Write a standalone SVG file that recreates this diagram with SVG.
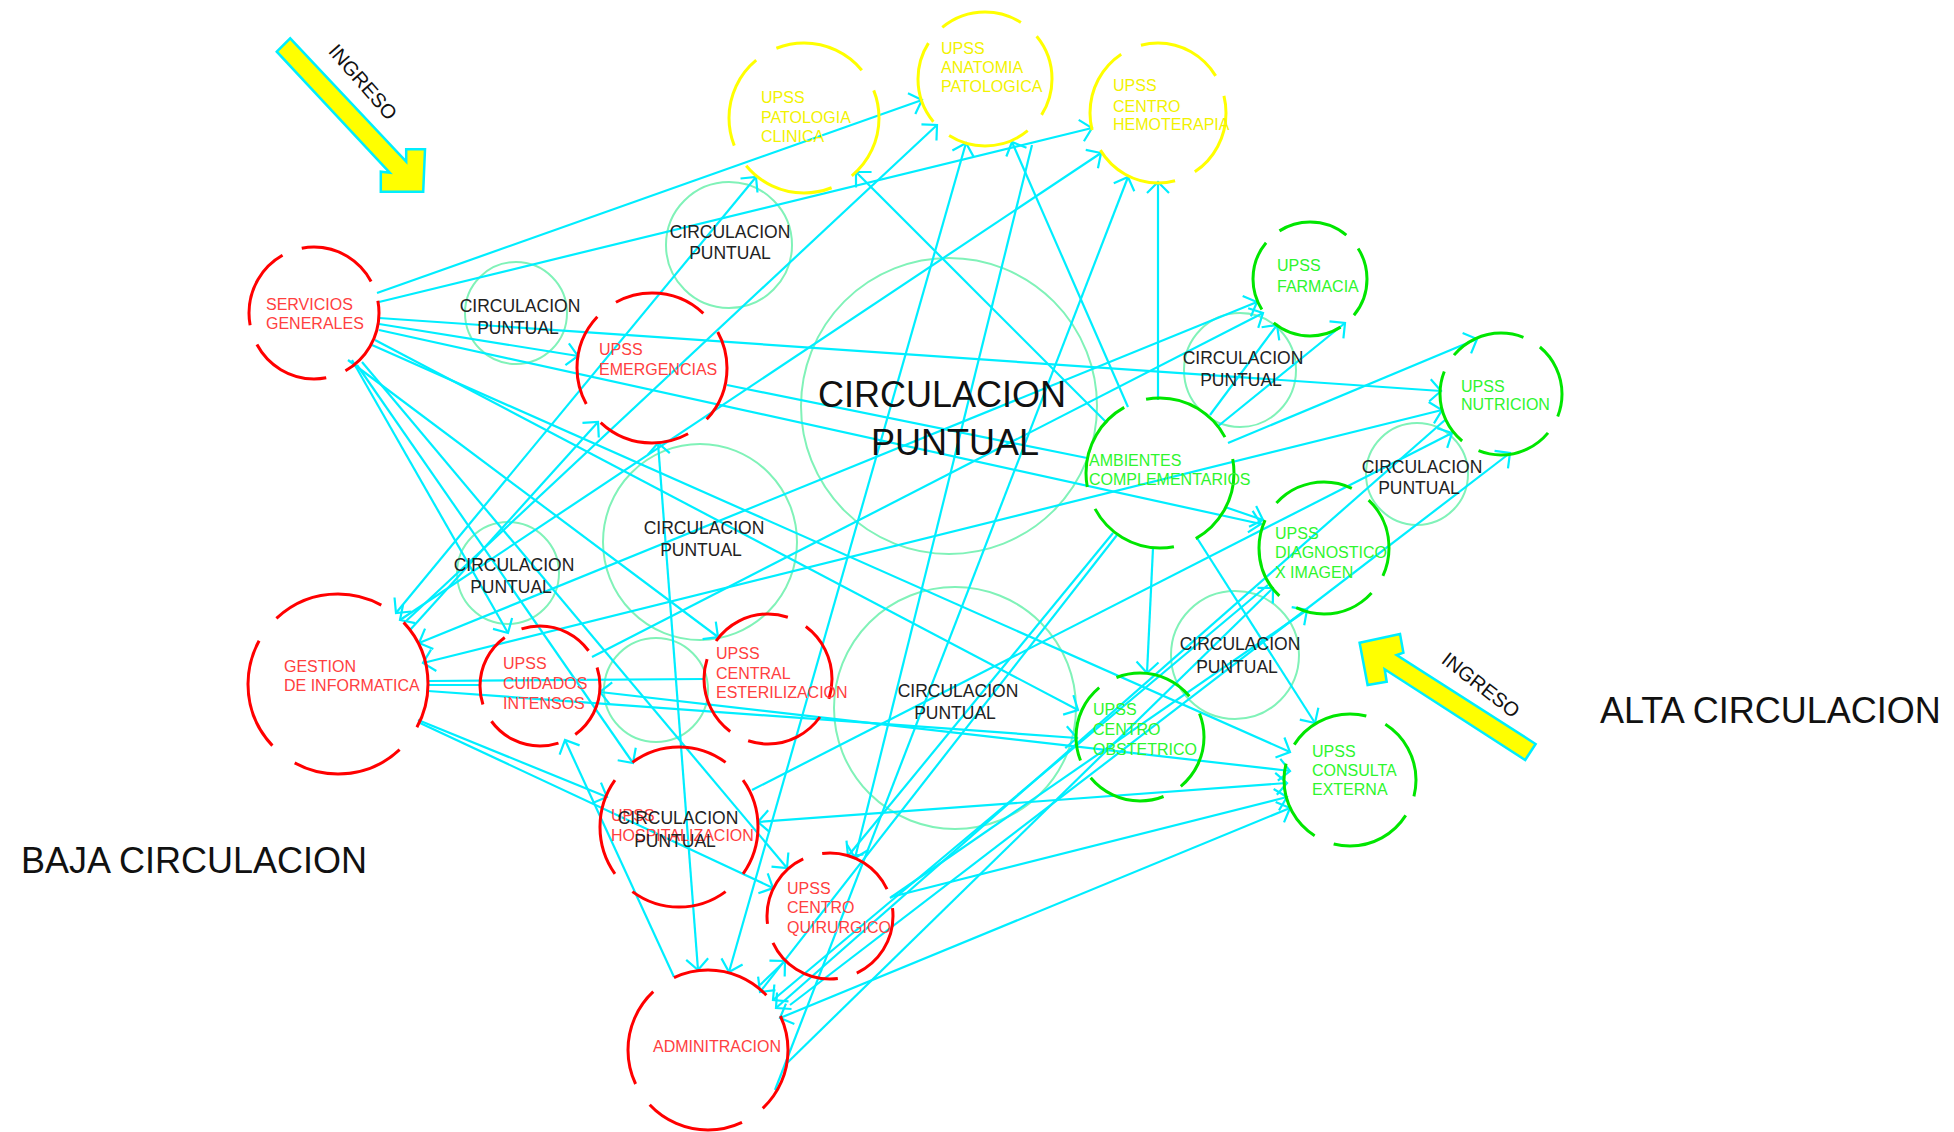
<svg xmlns="http://www.w3.org/2000/svg" width="1954" height="1132" viewBox="0 0 1954 1132">
<style>
text{font-family:"Liberation Sans",Arial,sans-serif}
.nr{fill:none;stroke:#ff0000;stroke-width:3;stroke-dasharray:20 5}
.ng{fill:none;stroke:#00e600;stroke-width:3;stroke-dasharray:20 5}
.ny{fill:none;stroke:#ffff00;stroke-width:3;stroke-dasharray:20 5}
.cp{fill:none;stroke:#80f2b8;stroke-width:2}
.tr{fill:#ff4040;font-size:16px}
.tg{fill:#2ef52e;font-size:16px}
.ty{fill:#f2f200;font-size:16px}
.tc{fill:#222;font-size:17.5px;text-anchor:middle}
.tb{fill:#111;font-size:36px}
.c line{stroke:#00eeff;stroke-width:2.2;fill:none}
.e{marker-end:url(#ah)}
.b{marker-end:url(#ah);marker-start:url(#ah)}
.arw{fill:#ffff00;stroke:#00eeff;stroke-width:2.5}
</style>
<defs>
<marker id="ah" markerUnits="userSpaceOnUse" markerWidth="30" markerHeight="30" viewBox="-15 -15 30 30" refX="0" refY="0" orient="auto-start-reverse">
<path d="M-11,-11 L0,0 L-11,11" fill="none" stroke="#00eeff" stroke-width="2.2"/>
</marker>
</defs>
<rect width="1954" height="1132" fill="#ffffff"/>

<g id="circulation-areas">
<ellipse class="cp" cx="729" cy="245" rx="63" ry="63"/>
<ellipse class="cp" cx="516" cy="313" rx="51" ry="51"/>
<ellipse class="cp" cx="949" cy="406" rx="148" ry="148"/>
<ellipse class="cp" cx="1240" cy="370" rx="56" ry="57"/>
<ellipse class="cp" cx="1417" cy="474" rx="51" ry="51"/>
<ellipse class="cp" cx="508" cy="573" rx="51" ry="51"/>
<ellipse class="cp" cx="700" cy="542" rx="97" ry="98"/>
<ellipse class="cp" cx="656" cy="690" rx="52" ry="52"/>
<ellipse class="cp" cx="955" cy="708" rx="121" ry="121"/>
<ellipse class="cp" cx="1235" cy="655" rx="64" ry="64"/>
</g>

<g class="c" id="connectors">
<line class="e" x1="377" y1="293" x2="922" y2="100"/>
<line class="e" x1="379" y1="302" x2="1092" y2="128"/>
<line class="e" x1="379" y1="318" x2="1441" y2="391"/>
<line class="e" x1="379" y1="324" x2="578" y2="356"/>
<line class="e" x1="379" y1="330" x2="1261" y2="524"/>
<line class="e" x1="375" y1="340" x2="1078" y2="710"/>
<line class="e" x1="372" y1="345" x2="1290" y2="752"/>
<line class="e" x1="352" y1="360" x2="508" y2="633"/>
<line class="e" x1="357" y1="365" x2="633" y2="763"/>
<line class="e" x1="348" y1="360" x2="718" y2="637"/>
<line class="e" x1="362" y1="362" x2="787" y2="868"/>
<line class="b" x1="396" y1="613" x2="756" y2="177"/>
<line class="b" x1="400" y1="620" x2="1101" y2="153"/>
<line class="e" x1="405" y1="622" x2="937" y2="125"/>
<line class="e" x1="410" y1="630" x2="598" y2="422"/>
<line class="b" x1="419" y1="643" x2="1257" y2="302"/>
<line class="b" x1="423" y1="663" x2="1442" y2="410"/>
<line x1="428" y1="681" x2="704" y2="679"/>
<line x1="428" y1="685" x2="481" y2="685"/>
<line class="e" x1="428" y1="691" x2="1077" y2="738"/>
<line class="e" x1="418" y1="720" x2="607" y2="797"/>
<line class="e" x1="420" y1="723" x2="773" y2="888"/>
<line class="b" x1="600" y1="692" x2="1290" y2="771"/>
<line class="e" x1="592" y1="657" x2="1263" y2="313"/>
<line class="e" x1="674" y1="977" x2="565" y2="740"/>
<line class="b" x1="658" y1="443" x2="698" y2="970"/>
<line x1="727" y1="385" x2="1087" y2="458"/>
<line class="e" x1="1107" y1="423" x2="856" y2="172"/>
<line class="e" x1="1128" y1="407" x2="1012" y2="142"/>
<line class="e" x1="1158" y1="400" x2="1158" y2="182"/>
<line class="b" x1="966" y1="143" x2="729" y2="972"/>
<line class="e" x1="775" y1="1090" x2="1128" y2="177"/>
<line class="e" x1="1113" y1="533" x2="848" y2="856"/>
<line class="e" x1="1117" y1="535" x2="760" y2="992"/>
<line class="e" x1="1153" y1="548" x2="1147" y2="673"/>
<line class="e" x1="1197" y1="538" x2="1315" y2="723"/>
<line class="e" x1="1225" y1="507" x2="1263" y2="520"/>
<line class="e" x1="1228" y1="443" x2="1477" y2="339"/>
<line class="e" x1="1217" y1="427" x2="1345" y2="323"/>
<line class="e" x1="1210" y1="415" x2="1277" y2="325"/>
<line class="e" x1="790" y1="1005" x2="1510" y2="453"/>
<line class="e" x1="752" y1="790" x2="1452" y2="433"/>
<line class="e" x1="890" y1="898" x2="1307" y2="610"/>
<line class="e" x1="785" y1="1065" x2="1273" y2="588"/>
<line class="e" x1="891" y1="897" x2="1287" y2="797"/>
<line class="b" x1="780" y1="1018" x2="1290" y2="808"/>
<line class="b" x1="758" y1="822" x2="1287" y2="783"/>
<line class="e" x1="760" y1="985" x2="785" y2="961"/>
<line class="e" x1="1268" y1="585" x2="773" y2="1000"/>
<line class="e" x1="1445" y1="420" x2="776" y2="1008"/>
<line class="e" x1="1032" y1="145" x2="855" y2="858"/>
</g>

<g id="servicios-generales"><ellipse class="nr" cx="314" cy="313" rx="65" ry="66" pathLength="100" stroke-dashoffset="3"/>
<text class="tr" x="266" y="310">SERVICIOS</text><text class="tr" x="266" y="329">GENERALES</text></g>
<g id="emergencias"><ellipse class="nr" cx="652" cy="368" rx="75" ry="75" pathLength="100" stroke-dashoffset="8"/>
<text class="tr" x="599" y="355">UPSS</text><text class="tr" x="599" y="375">EMERGENCIAS</text></g>
<g id="gestion-informatica"><ellipse class="nr" cx="338" cy="684" rx="90" ry="90" pathLength="100" stroke-dashoffset="12"/>
<text class="tr" x="284" y="672">GESTION</text><text class="tr" x="284" y="691">DE INFORMATICA</text></g>
<g id="cuidados-intensos"><ellipse class="nr" cx="540" cy="686" rx="60" ry="60" pathLength="100" stroke-dashoffset="5"/>
<text class="tr" x="503" y="669">UPSS</text><text class="tr" x="503" y="689">CUIDADOS</text><text class="tr" x="503" y="709">INTENSOS</text></g>
<g id="central-esterilizacion"><ellipse class="nr" cx="768" cy="679" rx="64" ry="65" pathLength="100" stroke-dashoffset="15"/>
<text class="tr" x="716" y="659">UPSS</text><text class="tr" x="716" y="679">CENTRAL</text><text class="tr" x="716" y="698">ESTERILIZACION</text></g>
<g id="hospitalizacion"><ellipse class="nr" cx="679" cy="827" rx="79" ry="80" pathLength="100" stroke-dashoffset="10"/>
<text class="tr" x="611" y="821">UPSS</text><text class="tr" x="611" y="841">HOSPITALIZACION</text></g>
<g id="centro-quirurgico"><ellipse class="nr" cx="830" cy="916" rx="63" ry="63" pathLength="100" stroke-dashoffset="2"/>
<text class="tr" x="787" y="894">UPSS</text><text class="tr" x="787" y="913">CENTRO</text><text class="tr" x="787" y="933">QUIRURGICO</text></g>
<g id="administracion"><ellipse class="nr" cx="708" cy="1050" rx="80" ry="80" pathLength="100" stroke-dashoffset="7"/>
<text class="tr" x="653" y="1052">ADMINITRACION</text></g>

<g id="patologia-clinica"><ellipse class="ny" cx="804" cy="118" rx="75" ry="75" pathLength="100" stroke-dashoffset="6"/>
<text class="ty" x="761" y="103">UPSS</text><text class="ty" x="761" y="123">PATOLOGIA</text><text class="ty" x="761" y="142">CLINICA</text></g>
<g id="anatomia-patologica"><ellipse class="ny" cx="985" cy="79" rx="67" ry="67" pathLength="100" stroke-dashoffset="11"/>
<text class="ty" x="941" y="54">UPSS</text><text class="ty" x="941" y="73">ANATOMIA</text><text class="ty" x="941" y="92">PATOLOGICA</text></g>
<g id="centro-hemoterapia"><ellipse class="ny" cx="1158" cy="113" rx="68" ry="70" pathLength="100" stroke-dashoffset="4"/>
<text class="ty" x="1113" y="91">UPSS</text><text class="ty" x="1113" y="112">CENTRO</text><text class="ty" x="1113" y="130">HEMOTERAPIA</text></g>

<g id="farmacia"><ellipse class="ng" cx="1310" cy="279" rx="57" ry="57" pathLength="100" stroke-dashoffset="9"/>
<text class="tg" x="1277" y="271">UPSS</text><text class="tg" x="1277" y="292">FARMACIA</text></g>
<g id="nutricion"><ellipse class="ng" cx="1501" cy="394" rx="61" ry="61" pathLength="100" stroke-dashoffset="14"/>
<text class="tg" x="1461" y="392">UPSS</text><text class="tg" x="1461" y="410">NUTRICION</text></g>
<g id="ambientes-complementarios"><ellipse class="ng" cx="1160" cy="473" rx="74" ry="75" pathLength="100" stroke-dashoffset="3"/>
<text class="tg" x="1089" y="466">AMBIENTES</text><text class="tg" x="1089" y="485">COMPLEMENTARIOS</text></g>
<g id="diagnostico-imagen"><ellipse class="ng" cx="1324" cy="548" rx="65" ry="66" pathLength="100" stroke-dashoffset="13"/>
<text class="tg" x="1275" y="539">UPSS</text><text class="tg" x="1275" y="558">DIAGNOSTICO</text><text class="tg" x="1275" y="578">X IMAGEN</text></g>
<g id="centro-obstetrico"><ellipse class="ng" cx="1140" cy="737" rx="64" ry="64" pathLength="100" stroke-dashoffset="6"/>
<text class="tg" x="1093" y="715">UPSS</text><text class="tg" x="1093" y="735">CENTRO</text><text class="tg" x="1093" y="755">OBSTETRICO</text></g>
<g id="consulta-externa"><ellipse class="ng" cx="1350" cy="780" rx="66" ry="66" pathLength="100" stroke-dashoffset="16"/>
<text class="tg" x="1312" y="757">UPSS</text><text class="tg" x="1312" y="776">CONSULTA</text><text class="tg" x="1312" y="795">EXTERNA</text></g>

<g id="circulation-labels">
<text class="tc" x="730" y="238">CIRCULACION</text><text class="tc" x="730" y="259">PUNTUAL</text>
<text class="tc" x="520" y="312">CIRCULACION</text><text class="tc" x="518" y="334">PUNTUAL</text>
<text class="tc" x="1243" y="364">CIRCULACION</text><text class="tc" x="1241" y="386">PUNTUAL</text>
<text class="tc" x="1422" y="473">CIRCULACION</text><text class="tc" x="1419" y="494">PUNTUAL</text>
<text class="tc" x="514" y="571">CIRCULACION</text><text class="tc" x="511" y="593">PUNTUAL</text>
<text class="tc" x="704" y="534">CIRCULACION</text><text class="tc" x="701" y="556">PUNTUAL</text>
<text class="tc" x="958" y="697">CIRCULACION</text><text class="tc" x="955" y="719">PUNTUAL</text>
<text class="tc" x="1240" y="650">CIRCULACION</text><text class="tc" x="1237" y="673">PUNTUAL</text>
<text class="tc" x="678" y="824">CIRCULACION</text><text class="tc" x="675" y="847">PUNTUAL</text>
<text class="tb" x="942" y="407" text-anchor="middle">CIRCULACION</text>
<text class="tb" x="955" y="455" text-anchor="middle">PUNTUAL</text>
</g>

<g id="ingreso-1">
<polygon class="arw" points="276.8,51.7 290.2,38.3 406.2,161.7 406.2,149.3 425,149.3 423.2,191.7 380.8,191.7 380.8,171.7 389.7,172.7"/>
<text transform="translate(363,82) rotate(49)" x="0" y="7" text-anchor="middle" font-size="20" fill="#111">INGRESO</text>
</g>
<g id="ingreso-2">
<polygon class="arw" points="1525.2,760 1535.6,744 1396.7,655 1403.4,652.7 1400,634 1359.6,642.7 1367.6,685 1386.7,681.7 1384.7,669.3"/>
<text transform="translate(1481,685) rotate(38)" x="0" y="7" text-anchor="middle" font-size="20" fill="#111">INGRESO</text>
</g>

<g id="zone-labels">
<text class="tb" x="21" y="873">BAJA CIRCULACION</text>
<text class="tb" x="1600" y="723">ALTA CIRCULACION</text>
</g>
</svg>
